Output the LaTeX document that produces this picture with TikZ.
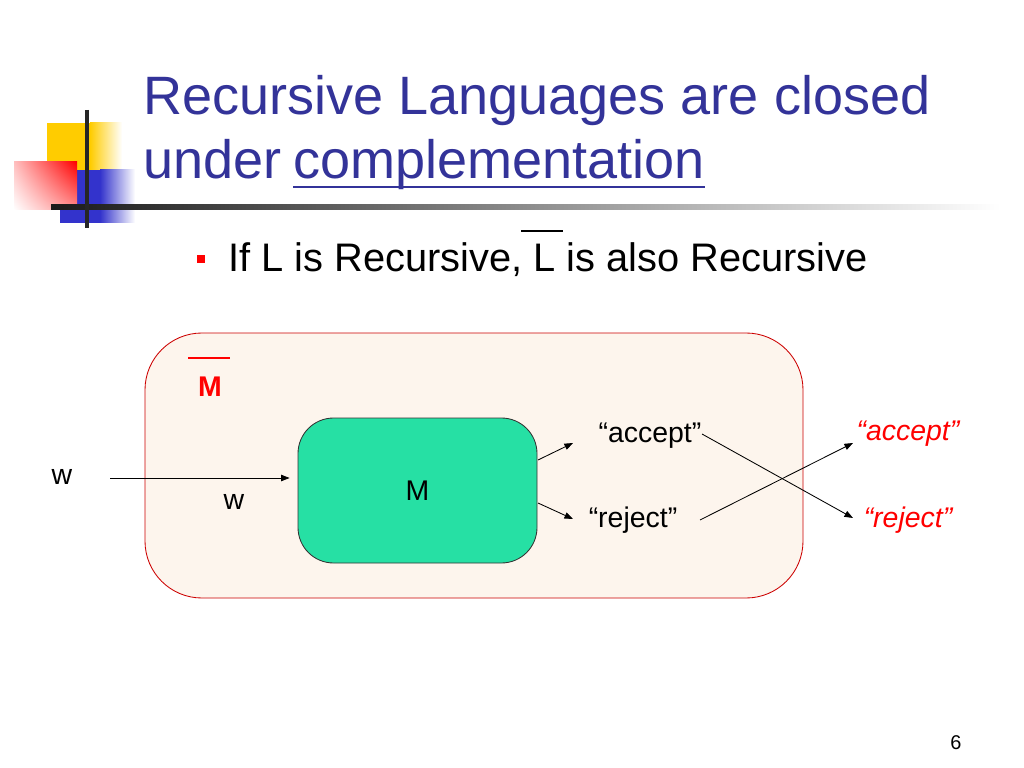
\documentclass[tikz,border=0pt]{standalone}
\usepackage{fontspec}
\setmainfont{Liberation Sans}
\usetikzlibrary{arrows.meta,shadings}
\definecolor{titleblue}{RGB}{51,51,153}
\definecolor{cream}{RGB}{253,245,237}
\definecolor{boxgreen}{RGB}{38,224,164}
\definecolor{lyellow}{RGB}{255,204,0}
\definecolor{lblue}{RGB}{51,51,204}
\tikzset{
  px/.style={x=0.703125pt,y=-0.703125pt},
  arr/.style={-{Triangle[length=6pt,width=4.5pt]},line width=0.6pt},
  lbl/.style={font=\fontsize{20}{24}\selectfont,inner sep=0pt},
  redlbl/.style={lbl,text=red,font=\fontsize{20}{24}\selectfont\itshape},
  titletext/.style={anchor=base west,inner sep=0pt,text=titleblue,font=\fontsize{38}{44}\selectfont},
}
\begin{document}
\begin{tikzpicture}[px]
\useasboundingbox[fill=white] (0,0) rectangle (1024,768);
% logo
\fill[lyellow] (47,123) rectangle (90,170);
\shade[left color=lyellow,right color=white] (90,123) rectangle (122,170);
\fill[lblue] (60,170) rectangle (100,223);
\shade[left color=lblue,right color=white] (100,170) rectangle (135,223);
\shade[upper right=red, upper left=red!25, lower right=red!45, lower left=white] (14,162) rectangle (77,210);
\shade[left color=black!90,right color=white] (51,205) rectangle (1000,210);
\draw[line width=2.2pt,black!85] (87,110) -- (87,228);
% title
\node[titletext] (t1) at (143,115) {Recursive Languages are closed};
\node[titletext] (t2) at (143,179) {under};
\node[titletext] (t2b) at (293,179) {complementation};
\draw[titleblue,line width=1.6pt] ([yshift=-5.6pt]t2b.base west) -- ([yshift=-5.6pt]t2b.base east);
% bullet
\fill[red] (197,255) rectangle (205,263);
\node[anchor=base west,inner sep=0pt,font=\fontsize{28}{32}\selectfont] (b) at (228,272) {If L is Recursive, L is also Recursive};
\draw[line width=0.8pt] (521,231) -- (563,231);
% outer machine
\draw[red!80!black,fill=cream,line width=0.6pt,rounded corners=40] (145,333) rectangle (803,598);
\draw[red,line width=1.5pt] (188,358) -- (230,358);
\node[text=red,font=\fontsize{20}{24}\selectfont\bfseries,inner sep=0pt] (mb) at (210,387) {M};
% inner machine
\node[draw=black!80,fill=boxgreen,rounded corners=25,minimum width=239*0.703125pt,minimum height=145*0.703125pt,line width=0.6pt,lbl] (m) at (417.5,490.5) {M};
\coordinate (win) at (110,478);
\node[lbl] (w1) at (62,477) {w};
\node[lbl] (w2) at (234,502) {w};
\draw[arr,shorten >=5.6pt] (win) -- (m.west |- win);
\node[lbl] (acc) at (650,436) {“accept”};
\node[lbl] (rej) at (633,520) {“reject”};
\node[redlbl] (racc) at (908,434) {“accept”};
\node[redlbl] (rrej) at (908,520) {“reject”};
\coordinate (a1) at (538,460);
\coordinate (a2) at (573,443);
\coordinate (r1) at (538,503);
\coordinate (r2) at (573,519);
\draw[arr] (a1) -- (a2);
\draw[arr] (r1) -- (r2);
\coordinate (ae) at (702,434);
\coordinate (re) at (853,518);
\coordinate (rs) at (700,520);
\coordinate (ar) at (853,443);
\draw[arr] (ae) -- (re);
\draw[arr] (rs) -- (ar);
\node[font=\fontsize{14}{16}\selectfont,inner sep=0pt] (pg) at (956,743) {6};
\end{tikzpicture}
\end{document}
